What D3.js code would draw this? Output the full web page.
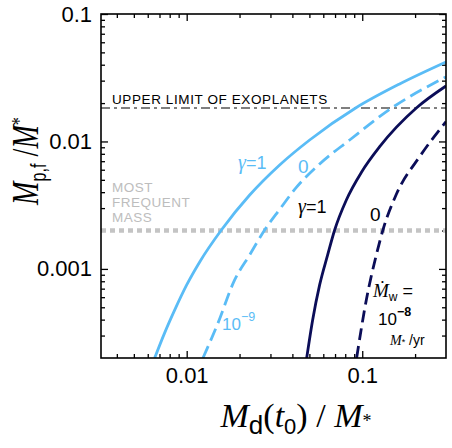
<!DOCTYPE html>
<html>
<head>
<meta charset="utf-8">
<script src="https://cdn.jsdelivr.net/npm/d3@7"></script>
<style>
  body { margin: 0; background: #fff; }
  svg { display: block; font-family: "Liberation Sans", Arial, sans-serif; }
</style>
</head>
<body>
<svg id="chart" width="452" height="448"></svg>
<script>
// curves: [Md(t0)/M*, Mp,f/M*]
// light blue = wind 1e-9 M*/yr, navy = wind 1e-8 M*/yr; solid gamma=1, dashed gamma=0
const lowWindGamma1 = [[0.00657, 2e-4], [0.00749, 3.15e-4], [0.00855, 4.77e-4], [0.01, 7.49e-4],
  [0.01186, 1.135e-3], [0.01576, 2.02e-3], [0.02285, 3.8e-3], [0.03385, 6.54e-3],
  [0.05017, 0.01027], [0.0917, 0.0183], [0.1633, 0.02825], [0.3, 0.042]];
const lowWindGamma0 = [[0.01238, 2e-4], [0.01502, 3.71e-4], [0.01876, 8.2e-4], [0.02285, 1.288e-3],
  [0.0278, 2.02e-3], [0.03385, 2.93e-3], [0.04214, 4.36e-3], [0.05719, 6.66e-3],
  [0.0848, 0.01027], [0.1471, 0.0183], [0.3, 0.0321]];
const highWindGamma1 = [[0.04825, 2e-4], [0.05218, 3.98e-4], [0.05719, 7.49e-4], [0.06353, 1.288e-3],
  [0.06964, 2.02e-3], [0.08119, 3.476e-3], [0.0992, 5.765e-3], [0.1257, 9.1e-3],
  [0.2033, 0.0183], [0.3, 0.02724]];
const highWindGamma0 = [[0.0929, 2e-4], [0.1055, 5.71e-4], [0.1203, 1.288e-3], [0.1312, 2.02e-3],
  [0.1564, 3.85e-3], [0.2123, 7.6e-3], [0.3, 0.0143]];

const upperLimit = 0.0183;   // upper limit of exoplanets
const frequentMass = 0.002;  // most frequent mass

const xMajor = [0.01, 0.1];
const xMajorLabels = ["0.01", "0.1"];
const xMinor = [0.004, 0.005, 0.006, 0.007, 0.008, 0.009, 0.02, 0.03, 0.04, 0.05, 0.06, 0.07, 0.08, 0.09, 0.2];
const yMajor = [0.001, 0.01, 0.1];
const yMajorLabels = ["0.001", "0.01", "0.1"];
const yMinor = [0.0003, 0.0004, 0.0005, 0.0006, 0.0007, 0.0008, 0.0009,
  0.002, 0.003, 0.004, 0.005, 0.006, 0.007, 0.008, 0.009,
  0.02, 0.03, 0.04, 0.05, 0.06, 0.07, 0.08, 0.09];

const lightBlue = "#5abcf6";
const navy = "#0b0d58";

var svg = d3.select('#chart');
var padding = { t: 14, r: 6, b: 90, l: 101 };
var w = 452 - padding.l - padding.r;
var h = 448 - padding.t - padding.b;

var x = d3.scaleLog().domain([0.00325, 0.3]).range([0, w]);
var y = d3.scaleLog().domain([2e-4, 0.1]).range([h, 0]);

var g = svg.append('g').attr('transform', `translate(${padding.l},${padding.t})`);

svg.append('defs').append('clipPath').attr('id', 'clip')
  .append('rect').attr('width', w).attr('height', h);

// axes, ticks pointing inward on all four sides
function styleAxis(sel) {
  sel.select('.domain').remove();
  sel.selectAll('line').attr('stroke', '#000').attr('stroke-width', 1.3);
  sel.selectAll('text').attr('font-size', '22px').attr('fill', '#000')
    .attr('font-family', '"Liberation Sans", Arial, sans-serif');
}
var fmtX = v => xMajorLabels[xMajor.indexOf(v)];
var fmtY = v => yMajorLabels[yMajor.indexOf(v)];

g.append('g').attr('transform', `translate(0,${h})`)
  .call(d3.axisBottom(x).tickValues(xMajor).tickFormat(fmtX).tickSize(-7).tickPadding(9.5)).call(styleAxis);
g.append('g').attr('transform', `translate(0,${h})`)
  .call(d3.axisBottom(x).tickValues(xMinor).tickFormat('').tickSize(-4)).call(styleAxis);
g.append('g')
  .call(d3.axisTop(x).tickValues(xMajor).tickFormat('').tickSize(-7)).call(styleAxis);
g.append('g')
  .call(d3.axisTop(x).tickValues(xMinor).tickFormat('').tickSize(-4)).call(styleAxis);

g.append('g')
  .call(d3.axisLeft(y).tickValues(yMajor).tickFormat(fmtY).tickSize(-7).tickPadding(9)).call(styleAxis);
g.append('g')
  .call(d3.axisLeft(y).tickValues(yMinor).tickFormat('').tickSize(-4)).call(styleAxis);
g.append('g').attr('transform', `translate(${w},0)`)
  .call(d3.axisRight(y).tickValues(yMajor).tickFormat('').tickSize(-7)).call(styleAxis);
g.append('g').attr('transform', `translate(${w},0)`)
  .call(d3.axisRight(y).tickValues(yMinor).tickFormat('').tickSize(-4)).call(styleAxis);

var plot = g.append('g').attr('clip-path', 'url(#clip)');

// reference lines
plot.append('line')
  .attr('x1', 0).attr('x2', w).attr('y1', y(frequentMass)).attr('y2', y(frequentMass))
  .attr('stroke', '#c4c4c4').attr('stroke-width', 4.5).attr('stroke-dasharray', '5,4');
plot.append('line')
  .attr('x1', 0).attr('x2', w).attr('y1', y(upperLimit)).attr('y2', y(upperLimit))
  .attr('stroke', '#000').attr('stroke-width', 1.1).attr('stroke-dasharray', '9,4,3,4');

var line = d3.line().x(d => x(d[0])).y(d => y(d[1])).curve(d3.curveMonotoneX);

var series = [
  { data: lowWindGamma1, color: lightBlue, dash: null },
  { data: lowWindGamma0, color: lightBlue, dash: '13,6' },
  { data: highWindGamma1, color: navy, dash: null },
  { data: highWindGamma0, color: navy, dash: '12,6' }
];
series.forEach(function(s) {
  plot.append('path')
    .attr('d', line(s.data))
    .attr('fill', 'none')
    .attr('stroke', s.color)
    .attr('stroke-width', 2.8)
    .attr('stroke-dasharray', s.dash);
});

// frame
g.append('rect').attr('width', w).attr('height', h)
  .attr('fill', 'none').attr('stroke', '#000').attr('stroke-width', 1.6);

// annotations
svg.append('text').attr('x', 112).attr('y', 103.5)
  .attr('font-size', '13.5px').attr('letter-spacing', '0.6px')
  .text('UPPER LIMIT OF EXOPLANETS');

['MOST', 'FREQUENT', 'MASS'].forEach(function(t, i) {
  svg.append('text').attr('x', 112).attr('y', 192 + i * 15)
    .attr('font-size', '13.5px').attr('letter-spacing', '0.5px').attr('fill', '#bdbdbd')
    .text(t);
});

function gammaLabel(xp, yp, color) {
  var t = svg.append('text').attr('x', xp).attr('y', yp).attr('fill', color).attr('font-size', '18px');
  t.append('tspan').attr('font-family', '"Liberation Serif", serif').attr('font-style', 'italic')
    .attr('font-size', '20px').text('γ');
  t.append('tspan').text('=1');
}
gammaLabel(238, 169, lightBlue);
gammaLabel(298, 213, '#000');

svg.append('text').attr('x', 298).attr('y', 173).attr('fill', lightBlue).attr('font-size', '19px').text('0');
svg.append('text').attr('x', 370).attr('y', 221).attr('fill', '#000').attr('font-size', '19px').text('0');

var t9 = svg.append('text').attr('x', 222).attr('y', 330).attr('fill', lightBlue).attr('font-size', '17px');
t9.append('tspan').text('10');
t9.append('tspan').attr('font-size', '12.5px').attr('dy', -9).text('−9');

var tw = svg.append('text').attr('x', 373).attr('y', 297).attr('fill', '#000').attr('font-size', '18px');
tw.append('tspan').attr('font-family', '"Liberation Serif", "DejaVu Serif", serif').attr('font-style', 'italic')
  .attr('font-size', '19px').text('Ṁ');
tw.append('tspan').attr('font-size', '12px').attr('dy', 4).text('w');
tw.append('tspan').attr('dy', -4).text(' =');

var t8 = svg.append('text').attr('x', 378).attr('y', 325).attr('fill', '#000').attr('font-size', '17px');
t8.append('tspan').text('10');
t8.append('tspan').attr('font-size', '12.5px').attr('font-weight', 'bold').attr('dy', -9).text('−8');

var tyr = svg.append('text').attr('x', 390).attr('y', 345).attr('fill', '#000').attr('font-size', '14px');
tyr.append('tspan').attr('font-family', '"Liberation Serif", serif').attr('font-style', 'italic').text('M');
tyr.append('tspan').attr('font-size', '9px').text('*');
tyr.append('tspan').text(' /yr');

// axis titles
var serifI = '"Liberation Serif", "Times New Roman", serif';
var xt = svg.append('text').attr('transform', 'translate(296,427)')
  .attr('text-anchor', 'middle').attr('font-size', '34px');
xt.append('tspan').attr('font-family', serifI).attr('font-style', 'italic').text('M');
xt.append('tspan').attr('font-size', '26px').attr('dy', 7).text('d');
xt.append('tspan').attr('font-family', serifI).attr('dy', -7).text('(');
xt.append('tspan').attr('font-family', serifI).attr('font-style', 'italic').text('t');
xt.append('tspan').attr('font-size', '22px').attr('dy', 7).text('0');
xt.append('tspan').attr('font-family', serifI).attr('dy', -7).text(') / ');
xt.append('tspan').attr('font-family', serifI).attr('font-style', 'italic').text('M');
xt.append('tspan').attr('font-family', serifI).attr('font-size', '18px').text('*');

var yt = svg.append('text').attr('transform', 'translate(38,161) rotate(-90) scale(0.74,1)')
  .attr('text-anchor', 'middle').attr('font-size', '38px');
yt.append('tspan').attr('font-family', serifI).attr('font-style', 'italic').text('M');
yt.append('tspan').attr('font-size', '22px').attr('dy', 8).text('p,f');
yt.append('tspan').attr('font-family', serifI).attr('dy', -8).text(' /');
yt.append('tspan').attr('font-family', serifI).attr('font-style', 'italic').text('M');
yt.append('tspan').attr('font-family', serifI).attr('font-size', '22px').attr('dy', -12).text('*');
</script>
</body>
</html>
